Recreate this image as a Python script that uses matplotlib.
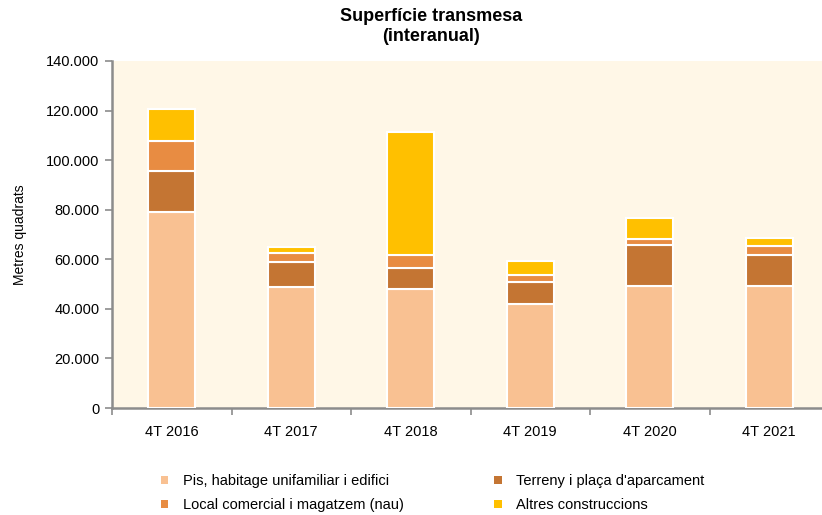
import matplotlib
matplotlib.use('Agg')
import matplotlib.pyplot as plt
from matplotlib.ticker import FuncFormatter, FixedLocator
import numpy as np

plt.rcParams['font.family'] = ['Liberation Sans', 'DejaVu Sans']

# Dades (m2)
trimestres = ['4T 2016', '4T 2017', '4T 2018', '4T 2019', '4T 2020', '4T 2021']
pis = [79100, 48700, 48000, 42000, 49200, 49200]
terreny = [16600, 10100, 8600, 8700, 16600, 12500]
local = [12100, 3600, 5100, 3000, 2400, 3800]
altres = [12900, 2700, 49500, 5500, 8400, 3200]

series = [
    ('Pis, habitage unifamiliar i edifici', pis, '#F9C192'),
    ('Terreny i plaça d\'aparcament', terreny, '#C47533'),
    ('Local comercial i magatzem (nau)', local, '#E88C42'),
    ('Altres construccions', altres, '#FFC000'),
]

fig = plt.figure(figsize=(8.22, 5.15), dpi=100)
ax = fig.add_axes([112/822, 1 - 408/515, 717/822, 347/515])
ax.set_facecolor('#FFF7E7')

x = np.arange(len(trimestres))
base = np.zeros(len(trimestres))
handles = []
for nom, vals, col in series:
    b = ax.bar(x, vals, 0.39, bottom=base, color=col, edgecolor='white',
               linewidth=1.5, label=nom, zorder=3)
    handles.append(b)
    base += np.array(vals)

ax.set_xlim(-0.5, 5.5)
ax.set_ylim(0, 140000)
ax.set_yticks(np.arange(0, 140001, 20000))
ax.yaxis.set_major_formatter(FuncFormatter(lambda v, p: f'{int(v):,}'.replace(',', '.')))
ax.set_xticks(x)
ax.set_xticklabels(trimestres)
ax.xaxis.set_minor_locator(FixedLocator(np.arange(-0.5, 6, 1)))
ax.tick_params(axis='x', which='major', length=0, pad=12, labelsize=10.5)
ax.tick_params(axis='x', which='minor', length=5, color='#8C8C8C', width=1.2)
ax.tick_params(axis='y', length=5, color='#8C8C8C', width=1.2, labelsize=10.5, pad=4)
ax.set_ylabel('Metres quadrats', fontsize=10, labelpad=14)

for s in ['top', 'right']:
    ax.spines[s].set_visible(False)
for s in ['left', 'bottom']:
    ax.spines[s].set_color('#8C8C8C')
    ax.spines[s].set_linewidth(1.8)

fig.text(0.524, 0.985, 'Superfície transmesa\n(interanual)', ha='center', va='top',
         fontsize=13, fontweight='bold', linespacing=1.25)

# ordre per files com a l'original
ordre = [0, 2, 1, 3]
leg = fig.legend(handles=[handles[i] for i in ordre], labels=[series[i][0] for i in ordre],
                 ncol=2, loc='upper left', bbox_to_anchor=(0.18, 0.105), frameon=False,
                 fontsize=10.5, handlelength=0.5, handleheight=0.5,
                 columnspacing=6.2, labelspacing=0.7, handletextpad=1.0)
for h in leg.legend_handles:
    h.set_edgecolor('none')

fig.savefig('out.png', dpi=100)
